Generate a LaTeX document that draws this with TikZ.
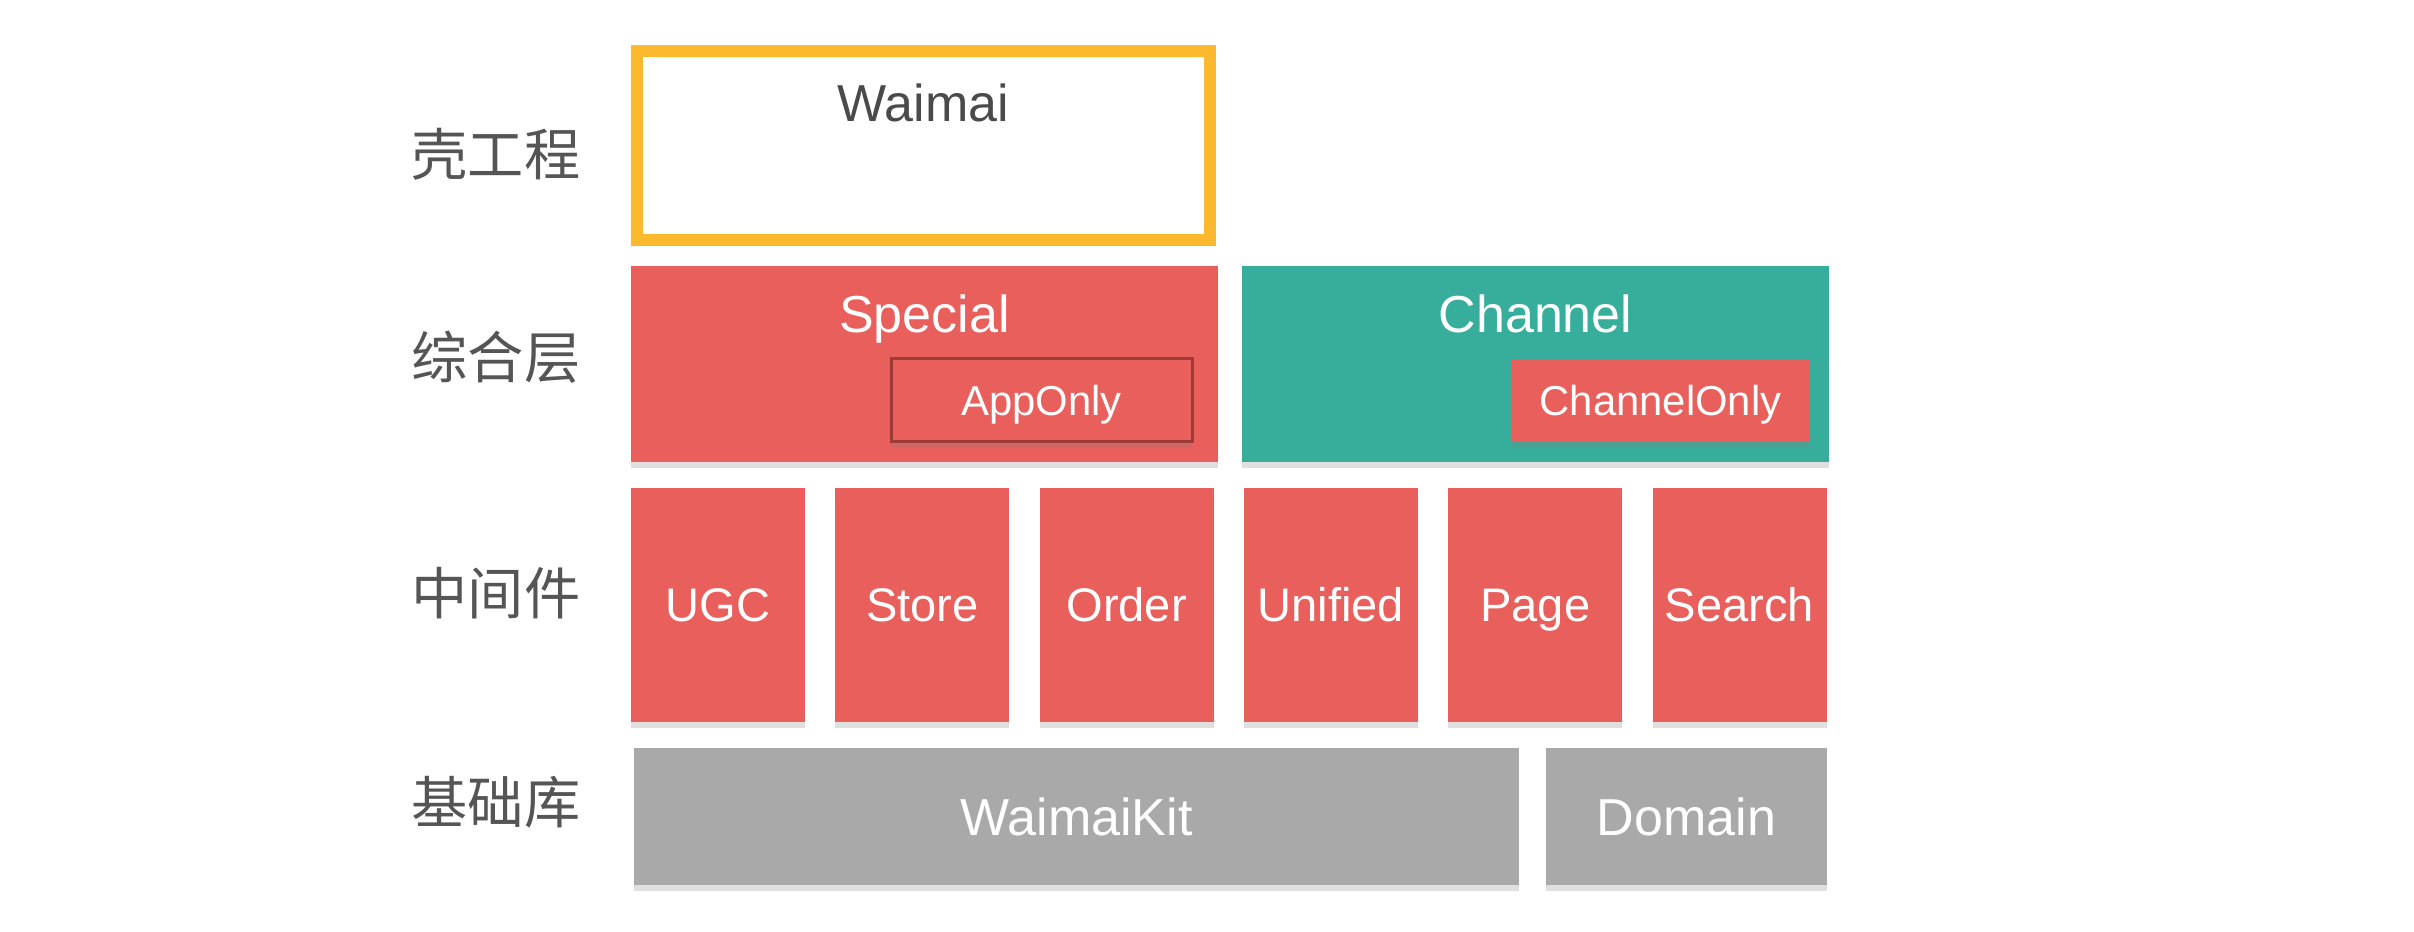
\documentclass[tikz,border=0pt]{standalone}
\usepackage{fontspec}
\setmainfont{Liberation Sans}
\newfontfamily\cjk{Noto Sans CJK SC}
\usetikzlibrary{shadows}

\definecolor{boxred}{HTML}{E95F5B}
\definecolor{boxteal}{HTML}{37AD9C}
\definecolor{boxgray}{HTML}{A8A9A8}
\definecolor{shellyellow}{HTML}{FDB92E}
\definecolor{labelgray}{HTML}{555555}
\definecolor{titlegray}{HTML}{4A4A4A}
\definecolor{onlyborder}{HTML}{9E3A37}

\tikzset{
  softshadow/.style={drop shadow={shadow xshift=0pt, shadow yshift=-0.6mm, opacity=0.25}},
  layer/.style={font=\cjk\fontsize{16}{18}\selectfont, text=labelgray},
  block/.style={inner sep=0pt, text=white, text depth=0pt, softshadow},
  bigtext/.style={font=\fontsize{14.8}{16}\selectfont, text=white, text height=10.6pt, text depth=0pt},
  midtext/.style={font=\fontsize{13.4}{15}\selectfont, text height=9.6pt},
  smalltext/.style={font=\fontsize{11.9}{13}\selectfont, text height=8.5pt},
}

\begin{document}
\begin{tikzpicture}[x=0.1mm, y=-0.1mm]

    \useasboundingbox (0, 0) rectangle (2414, 932);

    % layer names
    \node[layer] (shellL) at (496, 154) {壳工程};
    \node[layer] (mixL) at (496, 357) {综合层};
    \node[layer] (midL) at (496, 593) {中间件};
    \node[layer] (baseL) at (496, 802) {基础库};

    % shell
    \node[draw=shellyellow, line width=1.2mm, inner sep=0pt,
      minimum width=57.3mm, minimum height=18.9mm] (waimai) at (923.5, 145.5) {};
    \node[bigtext, text=titlegray] (waimaiT) at (923.5, 103) {Waimai};

    % mixed layer
    \node[block, fill=boxred, minimum width=58.7mm, minimum height=19.6mm]
      (special) at (924.5, 364) {};
    \node[bigtext] (specialT) at (924.5, 314) {Special};
    \node[block, fill=boxred, draw=onlyborder, line width=0.3mm, smalltext,
      minimum width=30.1mm, minimum height=8.3mm] (apponly) at (1041.5, 400.5) {AppOnly};

    \node[block, fill=boxteal, minimum width=58.7mm, minimum height=19.6mm]
      (channel) at (1535.5, 364) {};
    \node[bigtext] (channelT) at (1535.5, 314) {Channel};
    \node[block, fill=boxred, smalltext,
      minimum width=29.7mm, minimum height=8.3mm] (channelonly) at (1660.5, 400.5) {ChannelOnly};

    % middleware
    \foreach \name [count=\i from 0] in {UGC, Store, Order, Unified, Page, Search} {
      \node[block, fill=boxred, midtext, minimum width=17.4mm, minimum height=23.4mm]
        (mid\i) at (718 + 204.3*\i, 605) {\name};
    }

    % base libs
    \node[block, fill=boxgray, bigtext,
      minimum width=88.5mm, minimum height=13.7mm] (kit) at (1076.5, 816.5) {WaimaiKit};
    \node[block, fill=boxgray, bigtext,
      minimum width=28.1mm, minimum height=13.7mm] (domain) at (1686.5, 816.5) {Domain};

\end{tikzpicture}
\end{document}
